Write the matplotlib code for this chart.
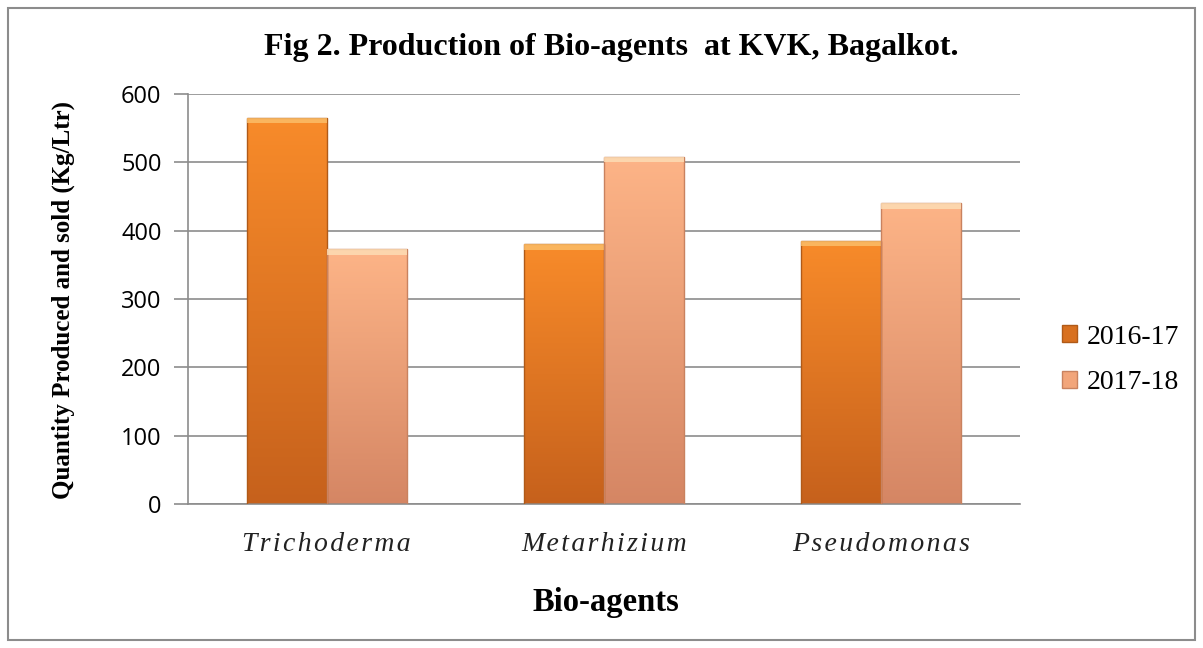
import numpy as np
import matplotlib
matplotlib.use("Agg")
import matplotlib.pyplot as plt
from matplotlib.patches import Rectangle
from matplotlib.colors import LinearSegmentedColormap

categories = ["Trichoderma", "Metarhizium", "Pseudomonas"]
series_names = ["2016-17", "2017-18"]
values_2016 = [565, 380, 385]
values_2017 = [373, 508, 440]
yticks = [0, 100, 200, 300, 400, 500, 600]

fig = plt.figure(figsize=(12.03, 6.48), dpi=100)
fig.patches.append(Rectangle((8/1203, 8/648), 1187/1203, 632/648, transform=fig.transFigure,
                             fill=False, edgecolor="#8c8c8c", linewidth=1.5))

ax = fig.add_axes([188/1203, 1-504/648, (1020-188)/1203, (504-94)/648])
ax.set_xlim(-0.5, 2.5)
ax.set_ylim(0, 600)
ax.set_yticks(yticks)
ax.yaxis.grid(True, color="#8c8c8c", linewidth=1.2)
ax.set_axisbelow(True)
for s in ["top", "right"]:
    ax.spines[s].set_visible(False)
for s in ["left", "bottom"]:
    ax.spines[s].set_color("#8c8c8c")
    ax.spines[s].set_linewidth(1.2)
ax.tick_params(axis="y", length=10, color="#8c8c8c", width=1.2, labelsize=17, pad=9)
ax.tick_params(axis="x", length=0, pad=20)
for lbl in ax.get_yticklabels():
    lbl.set_fontfamily("Open Sans")
ax.set_xticks(range(len(categories)))
spaced = ["\u200a".join(c) for c in categories]
ax.set_xticklabels(spaced, fontfamily=["Liberation Serif", "DejaVu Serif"],
                   fontstyle="italic", fontsize=20, color="#222222")

width = 0.289
cmap1 = LinearSegmentedColormap.from_list("c1", ["#c6611c", "#f88b2a"])
cmap2 = LinearSegmentedColormap.from_list("c2", ["#d58664", "#fdb487"])
top1, top2 = "#fcc06c", "#fde0b8"
edge1, edge2 = "#b05a18", "#c9825f"

def draw_bar(x0, h, cmap, topc, edgec):
    grad = np.linspace(0, 1, 256).reshape(-1, 1)
    im = ax.imshow(grad, cmap=cmap, origin="lower", aspect="auto",
                   extent=[x0, x0 + width, 0, h], zorder=2)
    rect = Rectangle((x0, 0), width, h, facecolor="none", edgecolor=edgec, linewidth=1.0, zorder=3)
    ax.add_patch(rect)
    im.set_clip_path(rect)
    ax.add_patch(Rectangle((x0, h - 8), width, 8, facecolor=topc, edgecolor="none", alpha=0.8, zorder=3))

for i, (a, b) in enumerate(zip(values_2016, values_2017)):
    draw_bar(i - width, a, cmap1, top1, edge1)
    draw_bar(i, b, cmap2, top2, edge2)
ax.set_xlim(-0.5, 2.5)
ax.set_ylim(0, 600)

fig.text(611/1203, 1-47/648, "Fig 2. Production of Bio-agents  at KVK, Bagalkot.",
         ha="center", va="center", fontfamily="Liberation Serif", fontweight="bold", fontsize=23)
fig.text(63/1203, 1-300/648, "Quantity Produced and sold (Kg/Ltr)", rotation=90,
         ha="center", va="center", fontfamily="Liberation Serif", fontweight="bold", fontsize=18)
fig.text(606/1203, 1-603/648, "Bio-agents", ha="center", va="center",
         fontfamily="Liberation Serif", fontweight="bold", fontsize=23.5)

handles = [Rectangle((0, 0), 1, 1, facecolor="#d8701f", edgecolor="#b05a18"),
           Rectangle((0, 0), 1, 1, facecolor="#f2a57a", edgecolor="#c9825f")]
leg = fig.legend(handles, series_names, loc="center left", bbox_to_anchor=(1062/1203, 1-360/648),
                 frameon=False, prop={"family": "Liberation Serif", "size": 20},
                 handlelength=0.55, handleheight=0.55, handletextpad=0.35, labelspacing=0.75,
                 borderpad=0, borderaxespad=0)

fig.savefig("out.png", dpi=100)
